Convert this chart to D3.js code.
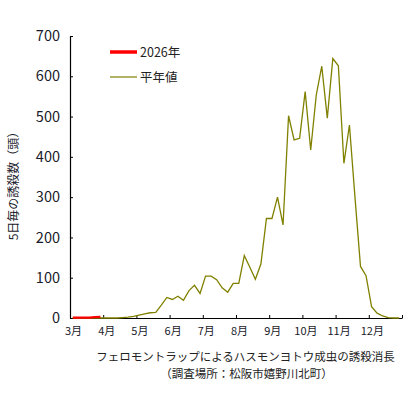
<!DOCTYPE html>
<html><head><meta charset="utf-8">
<script src="https://cdn.jsdelivr.net/npm/d3@7"></script>
<style>
body{margin:0;background:#fff;}
text{font-family:"Noto Sans CJK JP","Noto Sans",sans-serif;}
</style></head>
<body>
<svg id="c" width="418" height="394"></svg>
<script>
const months = ["3月","4月","5月","6月","7月","8月","9月","10月","11月","12月"];
const yTicks = [0,100,200,300,400,500,600,700];
const series2026 = [1,1,1,1,2,3];
const normal = [
  0,0,0,0,0,0,
  0,0,0,1,2,4,
  7,10,13,14,32,51,
  46,54,44,68,81,61,
  104,104,95,75,64,86,
  86,155,126,96,134,247,
  247,300,231,502,442,446,
  562,417,553,625,496,644,
  626,384,479,300,128,105,
  28,12,5,1,0,0
];
const legendLabels = ["2026年","平年値"];
const captionLines = ["フェロモントラップによるハスモンヨトウ成虫の誘殺消長","（調査場所：松阪市嬉野川北町）"];
const yTitle = "5日毎の誘殺数（頭）";

const svg = d3.select("#c");
const L = 70, R = 402, T = 36, B = 318;
const x = d3.scaleLinear().domain([0, 60]).range([L, R]);
const y = d3.scaleLinear().domain([0, 700]).range([B, T]);

// y axis
const ya = svg.append("g").attr("transform",`translate(${L},0)`)
  .call(d3.axisLeft(y).tickValues(yTicks).tickSize(-3).tickPadding(10).tickSizeOuter(0));
ya.select(".domain").attr("stroke","#000").attr("stroke-width",1.2);
ya.selectAll(".tick line").attr("stroke","#000");
ya.selectAll("text").attr("font-size",14.5).attr("fill","#1a1a2a");

// x axis
const xa = svg.append("g").attr("transform",`translate(0,${B})`)
  .call(d3.axisBottom(x).tickValues(d3.range(0,61,6)).tickSize(-3).tickPadding(9).tickSizeOuter(0)
    .tickFormat(d => months[d/6] || ""));
xa.select(".domain").attr("stroke","#000").attr("stroke-width",1.2);
xa.selectAll(".tick line").attr("stroke","#000");
xa.selectAll("text").attr("font-size",11).attr("fill","#1a1a2a").attr("dx",3);

// lines
const line = d3.line().x((d,i)=>x(i+0.5)).y(d=>y(d));
svg.append("path").datum(normal).attr("d",line)
  .attr("fill","none").attr("stroke","#808000").attr("stroke-width",1.3).attr("stroke-linejoin","miter");
svg.append("path").datum(series2026).attr("d",line)
  .attr("fill","none").attr("stroke","#ff0000").attr("stroke-width",2.2);

// legend
const lg = svg.append("g");
const legendColors = ["#ff0000","#808000"];
const legendWidths = [3.5,1.2];
const legendY = [52,77];
legendLabels.forEach((t,k)=>{
  lg.append("line").attr("x1",110).attr("x2",137).attr("y1",legendY[k]).attr("y2",legendY[k])
    .attr("stroke",legendColors[k]).attr("stroke-width",legendWidths[k]);
  lg.append("text").attr("x",140).attr("y",legendY[k]).attr("dy","0.36em")
    .attr("font-size",12.5).attr("fill","#222").text(t);
});

// y title
svg.append("text").attr("transform","translate(14,183) rotate(-90)")
  .attr("text-anchor","middle").attr("dy","0.36em").attr("font-size",12).attr("fill","#1a1a2a").text(yTitle);

// caption
captionLines.forEach((t,k)=>{
  svg.append("text").attr("x",k===0?245.5:246.5).attr("y",k===0?357:373.5).attr("dy","0.36em")
    .attr("text-anchor","middle").attr("font-size",11.5).attr("fill","#222").text(t);
});
</script>
</body></html>
